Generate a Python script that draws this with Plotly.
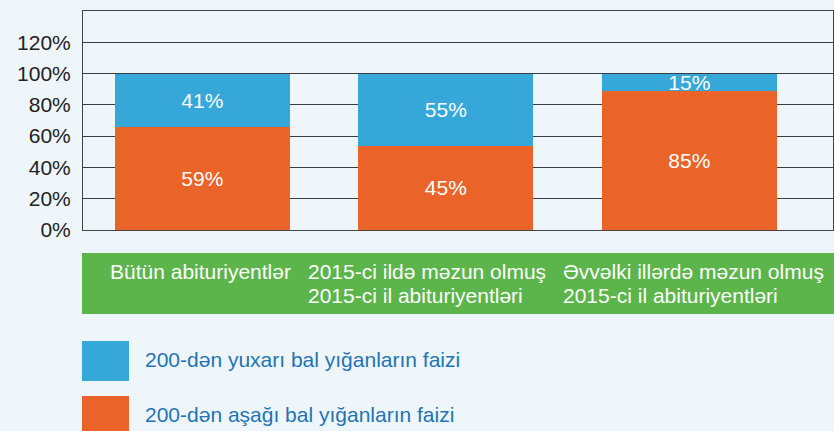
import plotly.graph_objects as go

# ---- data ----
categories = ["Bütün abituriyentlər",
              "2015-ci ildə məzun olmuş<br>2015-ci il abituriyentləri",
              "Əvvəlki illərdə məzun olmuş<br>2015-ci il abituriyentləri"]
below_200 = [66, 54, 89]          # bar heights as drawn (%)
above_200 = [34, 46, 11]
below_labels = ["59%", "45%", "85%"]
above_labels = ["41%", "55%", "15%"]
series_names = ["200-dən yuxarı bal yığanların faizi", "200-dən aşağı bal yığanların faizi"]
y_ticks = [0, 20, 40, 60, 80, 100, 120]
y_ticktext = ["0%", "20%", "40%", "60%", "80%", "100%", "120%"]

BLUE = "#36a7d9"
ORANGE = "#ea642a"
GREEN = "#5cb54a"
BG = "#eef6fc"
LEG_TXT = "#1f74b5"
FONT = "Liberation Sans, Arial, Helvetica, sans-serif"
FS = 21

W, H = 834, 431
# plot area in screen pixels: left 83, top 11, right 833, bottom 230
L, T = 83, 11
R = W - 833
B = H - 230
pw, ph = W - L - R, H - T - B

def px(x):
    return (x - L) / pw

def py(y):
    return (H - B - y) / ph

fig = go.Figure()
fig.add_trace(go.Bar(x=categories, y=below_200, text=below_labels, name=series_names[1],
                     marker=dict(color=ORANGE, line=dict(width=0)),
                     textposition="inside", insidetextanchor="middle",
                     textfont=dict(color="white", size=FS, family=FONT), showlegend=False))
fig.add_trace(go.Bar(x=categories, y=above_200, text=above_labels, name=series_names[0],
                     marker=dict(color=BLUE, line=dict(width=0)),
                     textposition="inside", insidetextanchor="middle",
                     textfont=dict(color="white", size=FS, family=FONT), showlegend=False))

shapes = []
annotations = []
# green band
shapes.append(dict(type="rect", xref="paper", yref="paper", x0=px(82), x1=px(836),
                   y0=py(314), y1=py(253), fillcolor=GREEN, line=dict(width=0), layer="below"))
label_x = [108, 306, 561]
line_y = [271, 295]
for cat, lx in zip(categories, label_x):
    for line, ly in zip(cat.split("<br>"), line_y):
        annotations.append(dict(text=line, xref="paper", yref="paper", x=px(lx), y=py(ly),
                                xanchor="left", yanchor="middle", align="left", showarrow=False,
                                font=dict(color="white", size=FS, family=FONT)))
# legend
leg_colors = [BLUE, ORANGE]
leg_top = [341, 396]
for name, col, ty in zip(series_names, leg_colors, leg_top):
    shapes.append(dict(type="rect", xref="paper", yref="paper", x0=px(82), x1=px(129),
                       y0=py(ty + 40), y1=py(ty), fillcolor=col, line=dict(width=0)))
    annotations.append(dict(text=name, xref="paper", yref="paper", x=px(143), y=py(ty + 18),
                            xanchor="left", yanchor="middle", showarrow=False,
                            font=dict(color=LEG_TXT, size=FS, family=FONT)))

fig.update_layout(
    width=W, height=H, barmode="stack", bargap=0.28,
    margin=dict(l=L, r=R, t=T, b=B),
    paper_bgcolor=BG, plot_bgcolor=BG,
    font=dict(family=FONT, color="#222"),
    uniformtext=dict(minsize=FS, mode="show"),
    shapes=shapes, annotations=annotations,
    xaxis=dict(range=[-0.49, 2.59], showticklabels=False, showgrid=False,
               showline=True, linecolor="#444", linewidth=1, mirror=True, zeroline=False,
               fixedrange=True),
    yaxis=dict(range=[0, 140], tickvals=y_ticks, ticktext=y_ticktext,
               tickfont=dict(size=FS, color="#222", family=FONT),
               showgrid=True, gridcolor="#3c3c3c", gridwidth=1,
               showline=True, linecolor="#444", linewidth=1, mirror=True, zeroline=False,
               ticks="", ticklabelstandoff=7, fixedrange=True),
)

page_js = ("document.body.style.margin='0';"
           "document.body.style.background='" + BG + "';"
           "document.documentElement.style.overflow='hidden';")
fig.write_html("out.html", post_script=page_js, config={"displayModeBar": False})
